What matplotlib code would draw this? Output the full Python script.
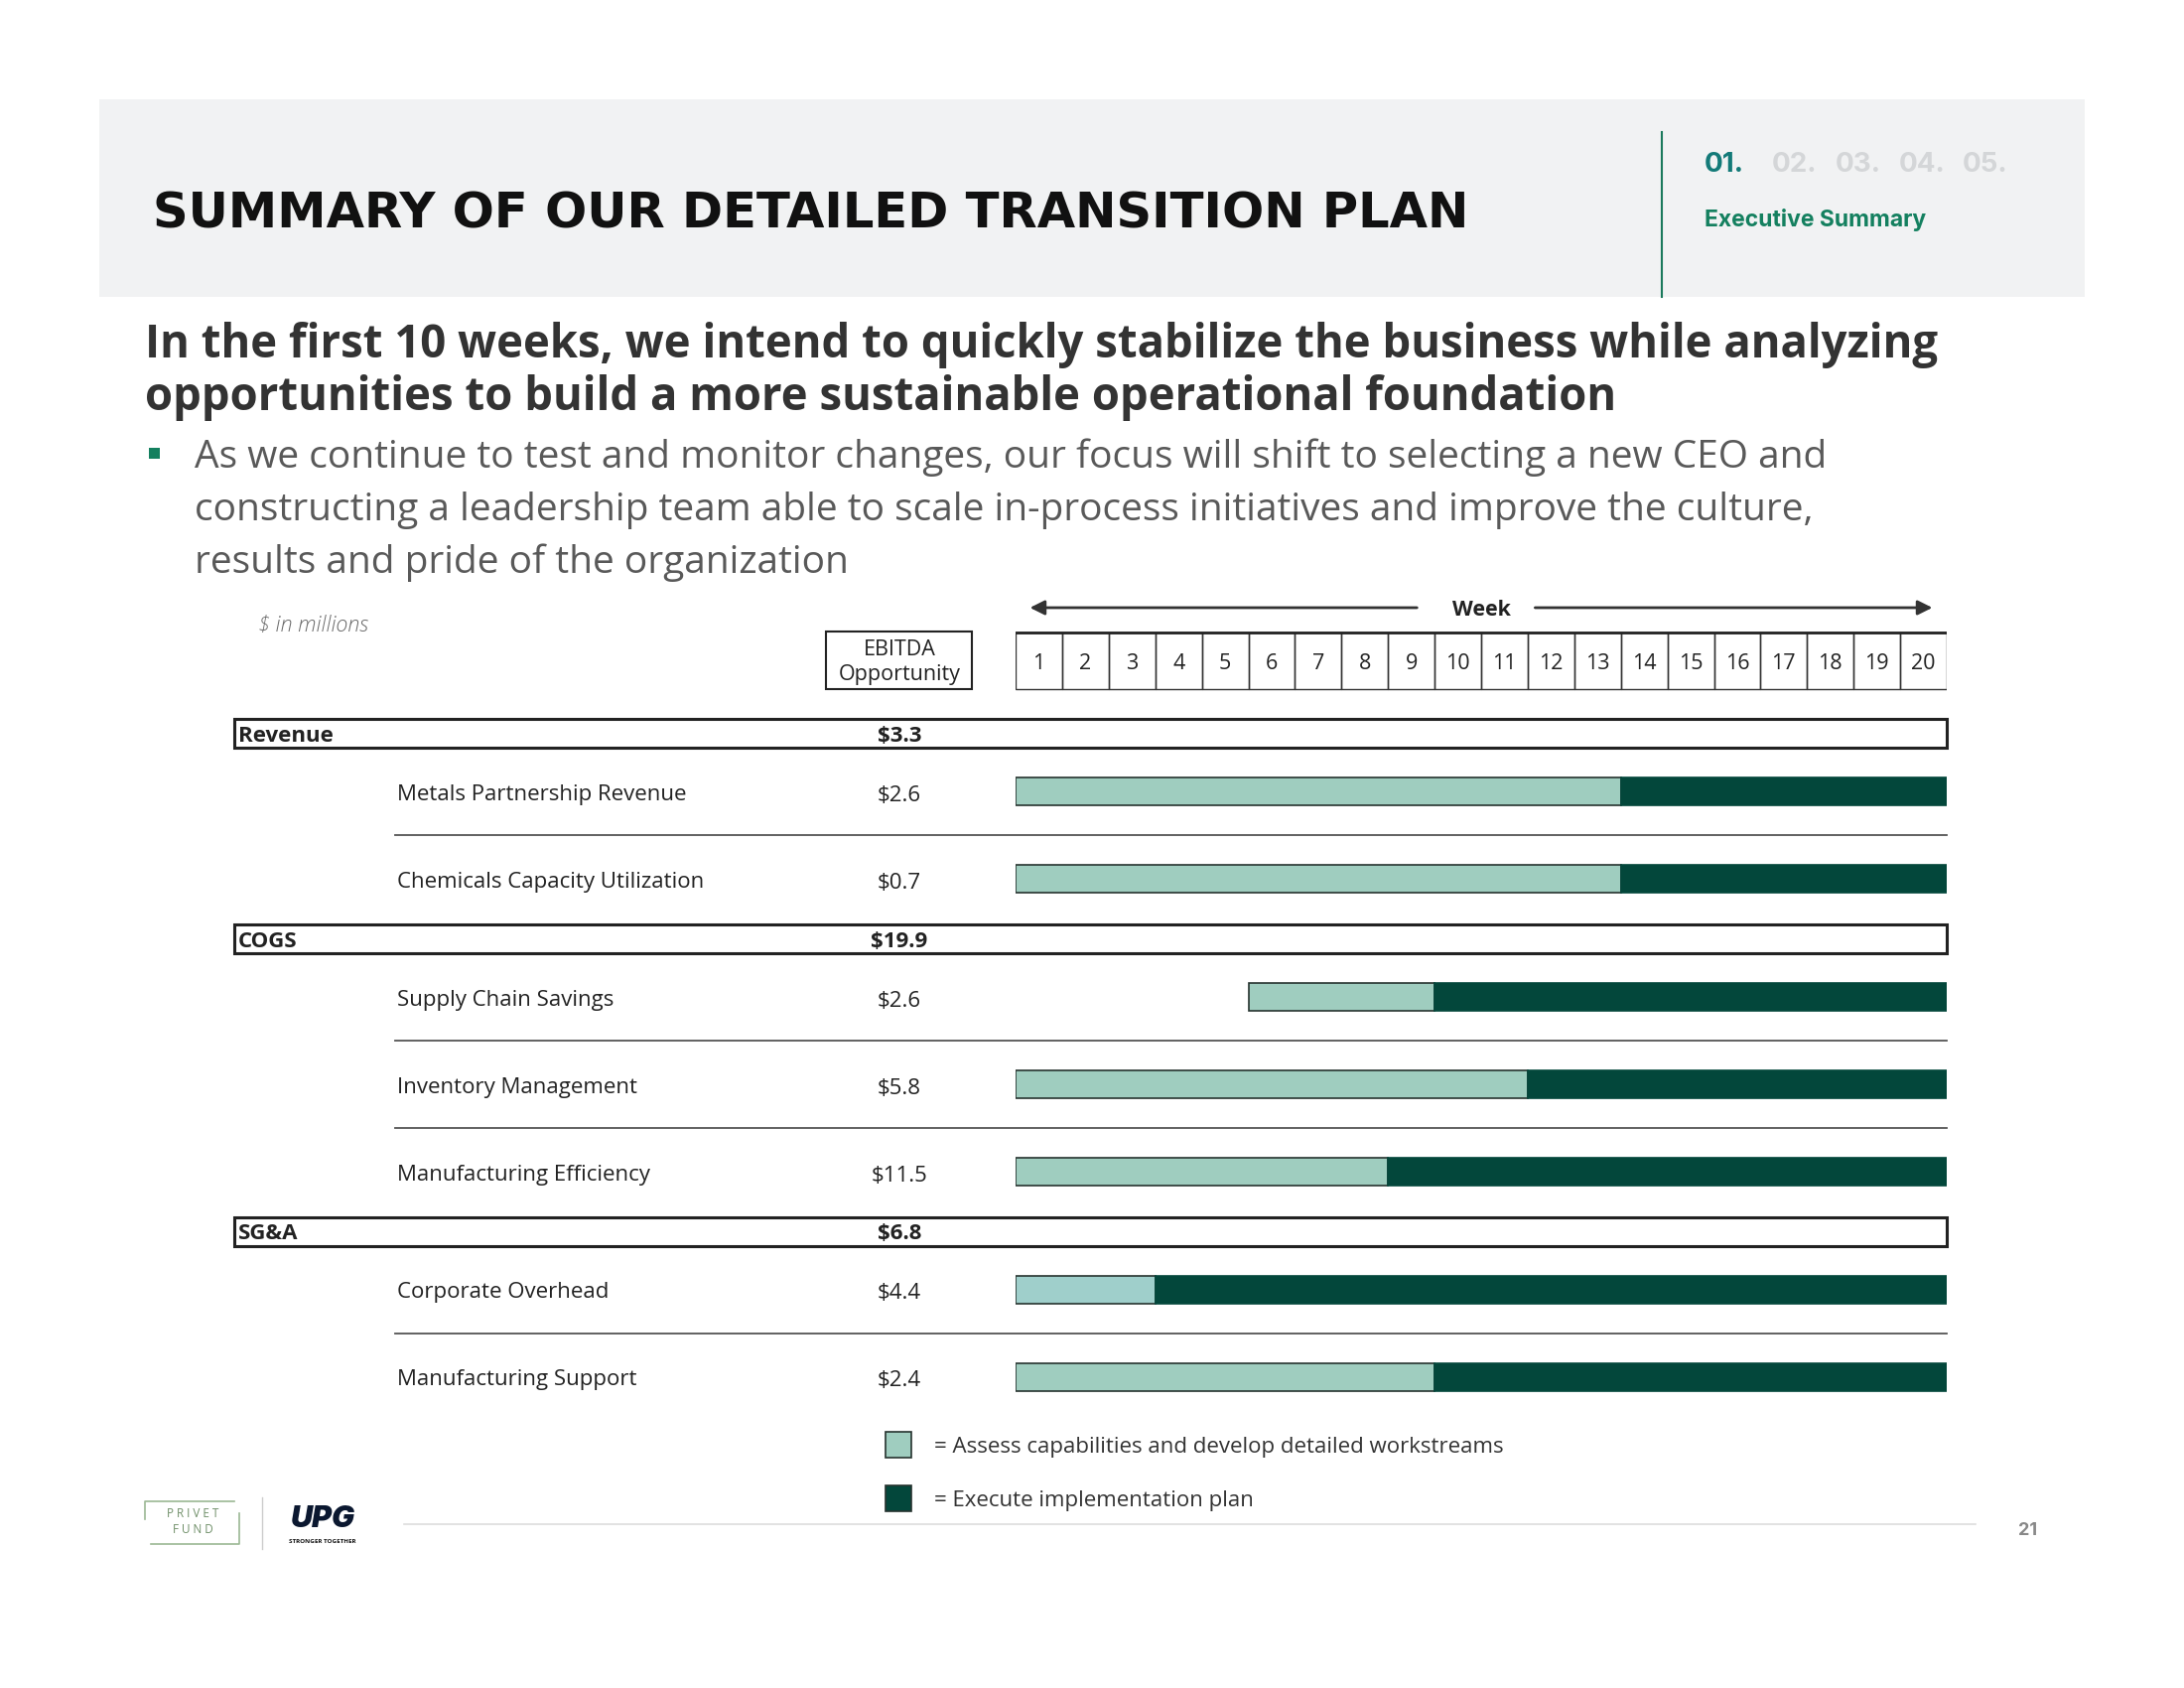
import matplotlib
matplotlib.use("Agg")
import matplotlib.pyplot as plt
from matplotlib.patches import Rectangle

# ---------------------------------------------------------------
# Data
# ---------------------------------------------------------------
weeks = list(range(1, 21))

groups = ["Revenue", "COGS", "SG&A"]
group_totals = ["$3.3", "$19.9", "$6.8"]

items = ["Metals Partnership Revenue", "Chemicals Capacity Utilization",
         "Supply Chain Savings", "Inventory Management", "Manufacturing Efficiency",
         "Corporate Overhead", "Manufacturing Support"]
item_group = [0, 0, 1, 1, 1, 2, 2]
item_values = [2.6, 0.7, 2.6, 5.8, 11.5, 4.4, 2.4]

# week numbers: assess phase from start..end, execute phase after that until exec_end
assess_start = [1, 1, 6, 1, 1, 1, 1]
assess_end = [13, 13, 9, 11, 8, 3, 9]
exec_end = [20, 20, 20, 20, 20, 20, 20]

legend_labels = ["= Assess capabilities and develop detailed workstreams",
                 "= Execute implementation plan"]

# colours
light = "#9fcdbf"
light_alt = "#9fcfcb"   # corporate overhead is a touch bluer
dark = "#03473b"
edge = "#26332f"
txt = "#222222"

SANS = ["Open Sans", "DejaVu Sans"]
HEAD = ["Inter", "DejaVu Sans"]

fig = plt.figure(figsize=(22, 17), dpi=100)
ax = fig.add_axes([0, 0, 1, 1])
ax.set_xlim(0, 2200)
ax.set_ylim(1700, 0)
ax.axis("off")

# ---------------- header band ----------------
ax.add_patch(Rectangle((100, 100), 2000, 199, color="#f1f2f3", lw=0))
ax.text(154, 215, "SUMMARY OF OUR DETAILED TRANSITION PLAN", family="DejaVu Sans",
        fontsize=35.7, fontweight="bold", color="#111111", va="center", ha="left")
ax.plot([1674, 1674], [133, 299], color="#1b7a5c", lw=1.5)
ax.text(1717, 166, "01.", family=HEAD, fontsize=20, fontweight="bold",
        color="#137a78", va="center")
for i, s in enumerate(["02.", "03.", "04.", "05."]):
    ax.text(1785 + i * 64, 166, s, family=HEAD, fontsize=20, fontweight="bold",
            color="#d4d6d8", va="center")
ax.text(1717, 221, "Executive Summary", family=HEAD, fontsize=16.5,
        fontweight="bold", color="#14805f", va="center")

# ---------------- headline + bullet ----------------
ax.text(146, 347, "In the first 10 weeks, we intend to quickly stabilize the business while analyzing",
        family=SANS, fontsize=32.8, fontweight="bold", color="#333333", va="center")
ax.text(146, 400, "opportunities to build a more sustainable operational foundation",
        family=SANS, fontsize=32.8, fontweight="bold", color="#333333", va="center")
ax.add_patch(Rectangle((150, 451), 11, 11, color="#14805f", lw=0))
bullet = ["As we continue to test and monitor changes, our focus will shift to selecting a new CEO and",
          "constructing a leadership team able to scale in-process initiatives and improve the culture,",
          "results and pride of the organization"]
for i, line in enumerate(bullet):
    ax.text(196, 461 + i * 53, line, family=SANS, fontsize=28, color="#595959",
            va="center")

ax.text(260, 630, "$ in millions", family=SANS, fontsize=15.5, style="italic",
        fontweight="light", color="#666666", va="center")

# ---------------- EBITDA header box ----------------
ax.add_patch(Rectangle((832, 636), 147, 58, fill=False, ec="#222222", lw=1.5))
ax.text(906, 667, "EBITDA\nOpportunity", family=SANS, fontsize=15.5, color=txt,
        ha="center", va="center", linespacing=1.25)

# ---------------- gantt axes (x in weeks) ----------------
gx0, gx1 = 1023, 1961
gax = fig.add_axes([gx0 / 2200, 0, (gx1 - gx0) / 2200, 1])
gax.set_xlim(0, len(weeks))
gax.set_ylim(1700, 0)
gax.axis("off")
gax.patch.set_alpha(0)

# week arrow
gax.annotate("", xy=(0.25, 612), xytext=(8.68, 612),
             arrowprops=dict(arrowstyle="-|>", color="#333333", lw=2, mutation_scale=22))
gax.annotate("", xy=(19.75, 612), xytext=(11.1, 612),
             arrowprops=dict(arrowstyle="-|>", color="#333333", lw=2, mutation_scale=22))
gax.text(10.0, 614, "Week", family=SANS, fontsize=15.5, fontweight="bold",
         color=txt, ha="center", va="center")

# week grid
for w in weeks:
    gax.add_patch(Rectangle((w - 1, 637), 1, 57, fill=False, ec="#333333", lw=1))
    gax.text(w - 0.5, 668, str(w), family=SANS, fontsize=15.5, color=txt,
             ha="center", va="center")
gax.plot([0, len(weeks)], [637, 637], color="#222222", lw=2)

# ---------------- rows ----------------
y = 738
item_y = []
header_y = []
for g in range(len(groups)):
    header_y.append(y)
    y += 59
    idx = [i for i in range(len(items)) if item_group[i] == g]
    for k, i in enumerate(idx):
        item_y.append(y)
        if k < len(idx) - 1:
            y += 88
    y += 60

for g, hy in enumerate(header_y):
    ax.add_patch(Rectangle((236, hy - 14.5), 1961 - 236, 29, fill=False,
                           ec="#222222", lw=2.2))
    ax.text(240, hy + 3, groups[g], family=SANS, fontsize=16, fontweight="bold",
            color=txt, va="center")
    ax.text(906, hy + 3, group_totals[g], family=SANS, fontsize=16,
            fontweight="bold", color=txt, ha="center", va="center")

for i, iy in enumerate(item_y):
    ax.text(400, iy + 3, items[i], family=SANS, fontsize=16, color=txt, va="center")
    ax.text(906, iy + 4, f"${item_values[i]:.1f}", family=SANS, fontsize=16,
            color=txt, ha="center", va="center")
    lc = light_alt if items[i] == "Corporate Overhead" else light
    gax.barh(iy, assess_end[i] - assess_start[i] + 1, left=assess_start[i] - 1,
             height=28, color=lc, edgecolor=edge, lw=1.2)
    gax.barh(iy, exec_end[i] - assess_end[i], left=assess_end[i],
             height=28, color=dark, edgecolor=dark, lw=1.2)
    # separators between items in the same group
    if i + 1 < len(items) and item_group[i + 1] == item_group[i]:
        sy = (iy + item_y[i + 1]) / 2
        ax.plot([398, 1961], [sy, sy], color="#555555", lw=1.3)

# ---------------- legend ----------------
for k, (lab, col) in enumerate(zip(legend_labels, [light, dark])):
    ly = 1455 + k * 54
    ax.add_patch(Rectangle((892, ly - 13), 26, 26, color=col, ec=edge, lw=1.2))
    ax.text(941, ly + 2, lab, family=SANS, fontsize=16, color="#333333", va="center")

# ---------------- footer ----------------
ax.plot([407, 1990], [1535, 1535], color="#dddddd", lw=1.2)
ax.text(2043, 1542, "21", family=HEAD, fontsize=13, fontweight="bold",
        color="#888888", ha="center", va="center")

# privet fund mark
ax.plot([146, 146, 236], [1530, 1512, 1512], color="#9bb894", lw=1.2)
ax.plot([241, 241, 152], [1524, 1555, 1555], color="#9bb894", lw=1.2)
ax.text(194, 1525, "P R I V E T", family=SANS, fontsize=8.5, color="#6f8f68",
        ha="center", va="center")
ax.text(194, 1541, "F U N D", family=SANS, fontsize=8.5, color="#6f8f68",
        ha="center", va="center")
ax.plot([264, 264], [1508, 1560], color="#cccccc", lw=1)
# UPG mark
ax.text(325, 1530, "UPG", family=HEAD, fontsize=22, fontweight="black",
        style="italic", color="#0b1830", ha="center", va="center")
ax.text(325, 1552, "STRONGER TOGETHER", family=SANS, fontsize=4.5,
        fontweight="bold", color="#111111", ha="center", va="center")

fig.savefig("out.png", dpi=100)
